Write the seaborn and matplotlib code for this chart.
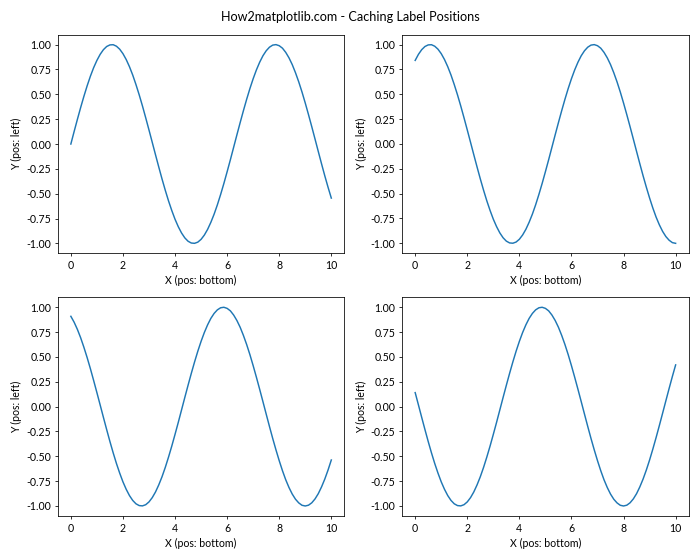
import matplotlib
matplotlib.use("Agg")
import matplotlib.pyplot as plt
import seaborn as sns
import pandas as pd

plt.rcParams['font.family'] = ['Lato', 'DejaVu Sans']
plt.rcParams['font.size'] = 10.8

x_vals = [i * 0.125 for i in range(81)]

y_top_left = [
    0.000, 0.125, 0.247, 0.366, 0.479, 0.585, 0.682, 0.768,
    0.841, 0.902, 0.949, 0.981, 0.997, 0.999, 0.984, 0.954,
    0.909, 0.850, 0.778, 0.694, 0.598, 0.494, 0.382, 0.263,
    0.141, 0.017, -0.108, -0.231, -0.351, -0.465, -0.572, -0.669,
    -0.757, -0.832, -0.895, -0.944, -0.978, -0.996, -0.999, -0.987,
    -0.959, -0.916, -0.859, -0.788, -0.706, -0.612, -0.508, -0.397,
    -0.279, -0.158, -0.033, 0.092, 0.215, 0.335, 0.450, 0.558,
    0.657, 0.746, 0.823, 0.888, 0.938, 0.974, 0.995, 1.000,
    0.989, 0.964, 0.922, 0.867, 0.799, 0.717, 0.625, 0.523,
    0.412, 0.295, 0.174, 0.050, -0.075, -0.199, -0.320, -0.435,
    -0.544]
y_top_right = [
    0.841, 0.902, 0.949, 0.981, 0.997, 0.999, 0.984, 0.954,
    0.909, 0.850, 0.778, 0.694, 0.598, 0.494, 0.382, 0.263,
    0.141, 0.017, -0.108, -0.231, -0.351, -0.465, -0.572, -0.669,
    -0.757, -0.832, -0.895, -0.944, -0.978, -0.996, -0.999, -0.987,
    -0.959, -0.916, -0.859, -0.788, -0.706, -0.612, -0.508, -0.397,
    -0.279, -0.158, -0.033, 0.092, 0.215, 0.335, 0.450, 0.558,
    0.657, 0.746, 0.823, 0.888, 0.938, 0.974, 0.995, 1.000,
    0.989, 0.964, 0.922, 0.867, 0.799, 0.717, 0.625, 0.523,
    0.412, 0.295, 0.174, 0.050, -0.075, -0.199, -0.320, -0.435,
    -0.544, -0.645, -0.736, -0.814, -0.880, -0.932, -0.969, -0.993,
    -1.000]
y_bottom_left = [
    0.909, 0.850, 0.778, 0.694, 0.598, 0.494, 0.382, 0.263,
    0.141, 0.017, -0.108, -0.231, -0.351, -0.465, -0.572, -0.669,
    -0.757, -0.832, -0.895, -0.944, -0.978, -0.996, -0.999, -0.987,
    -0.959, -0.916, -0.859, -0.788, -0.706, -0.612, -0.508, -0.397,
    -0.279, -0.158, -0.033, 0.092, 0.215, 0.335, 0.450, 0.558,
    0.657, 0.746, 0.823, 0.888, 0.938, 0.974, 0.995, 1.000,
    0.989, 0.964, 0.922, 0.867, 0.799, 0.717, 0.625, 0.523,
    0.412, 0.295, 0.174, 0.050, -0.075, -0.199, -0.320, -0.435,
    -0.544, -0.645, -0.736, -0.814, -0.880, -0.932, -0.969, -0.993,
    -1.000, -0.992, -0.968, -0.929, -0.876, -0.808, -0.729, -0.638,
    -0.537]
y_bottom_right = [
    0.141, 0.017, -0.108, -0.231, -0.351, -0.465, -0.572, -0.669,
    -0.757, -0.832, -0.895, -0.944, -0.978, -0.996, -0.999, -0.987,
    -0.959, -0.916, -0.859, -0.788, -0.706, -0.612, -0.508, -0.397,
    -0.279, -0.158, -0.033, 0.092, 0.215, 0.335, 0.450, 0.558,
    0.657, 0.746, 0.823, 0.888, 0.938, 0.974, 0.995, 1.000,
    0.989, 0.964, 0.922, 0.867, 0.799, 0.717, 0.625, 0.523,
    0.412, 0.295, 0.174, 0.050, -0.075, -0.199, -0.320, -0.435,
    -0.544, -0.645, -0.736, -0.814, -0.880, -0.932, -0.969, -0.993,
    -1.000, -0.992, -0.968, -0.929, -0.876, -0.808, -0.729, -0.638,
    -0.537, -0.427, -0.311, -0.190, -0.066, 0.059, 0.183, 0.304,
    0.420]

series = [y_top_left, y_top_right, y_bottom_left, y_bottom_right]

title = "How2matplotlib.com - Caching Label Positions"
xlabel = "X (pos: bottom)"
ylabel = "Y (pos: left)"

fig, axes = plt.subplots(2, 2, figsize=(10, 8), dpi=70)
for ax, ys in zip(axes.flat, series):
    df = pd.DataFrame({"x": x_vals, "y": ys})
    sns.lineplot(data=df, x="x", y="y", ax=ax, color="#1f77b4", linewidth=1.5)
    ax.set_xlabel(xlabel)
    ax.set_ylabel(ylabel)
    ax.set_xticks([0, 2, 4, 6, 8, 10])
    ax.set_yticks([-1.0, -0.75, -0.5, -0.25, 0.0, 0.25, 0.5, 0.75, 1.0])
    ax.set_yticklabels(["-1.00", "-0.75", "-0.50", "-0.25", "0.00", "0.25", "0.50", "0.75", "1.00"])

fig.suptitle(title, fontsize=13)
fig.tight_layout()
fig.savefig("out.png", dpi=70)
